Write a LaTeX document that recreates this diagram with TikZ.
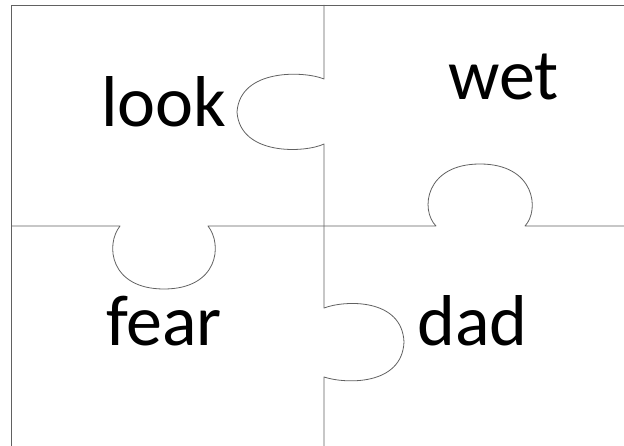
\documentclass[tikz,border=0pt]{standalone}
\usepackage{fontspec}
\setmainfont{Carlito}
\tikzset{
  cut/.style={draw=black!62, line width=0.8pt, line join=round},
  word/.style={inner sep=0pt, anchor=base west, font=\fontsize{72}{80}\selectfont}
}
\begin{document}
\begin{tikzpicture}[x=1pt,y=-1pt]
\useasboundingbox (0,0) rectangle (624,446);
% outer border (top and left)
\draw[cut] (11,446) -- (11,5) -- (624,5);
% vertical divider with tabs
\draw[cut] (324,5) -- (324,79)
  .. controls (305,71) and (240,68) .. (237,112)
  .. controls (240,156) and (305,153) .. (324,144)
  -- (324,308)
  .. controls (345,300) and (402,298) .. (404,342)
  .. controls (402,386) and (345,384) .. (324,377)
  -- (324,446);
% horizontal divider with tabs
\draw[cut] (11,226) -- (120,226)
  .. controls (105,245) and (110,289) .. (164,289)
  .. controls (218,289) and (223,245) .. (208,226)
  -- (436,226)
  .. controls (420,210) and (425,164) .. (480,164)
  .. controls (535,164) and (540,210) .. (525,226)
  -- (624,226);
% words
\node[word] (look) at (101,127) {look};
\node[word] (wet) at (448,100) {wet};
\node[word] (fear) at (106,345) {fear};
\node[word] (dad) at (417,345) {dad};
\end{tikzpicture}
\end{document}
